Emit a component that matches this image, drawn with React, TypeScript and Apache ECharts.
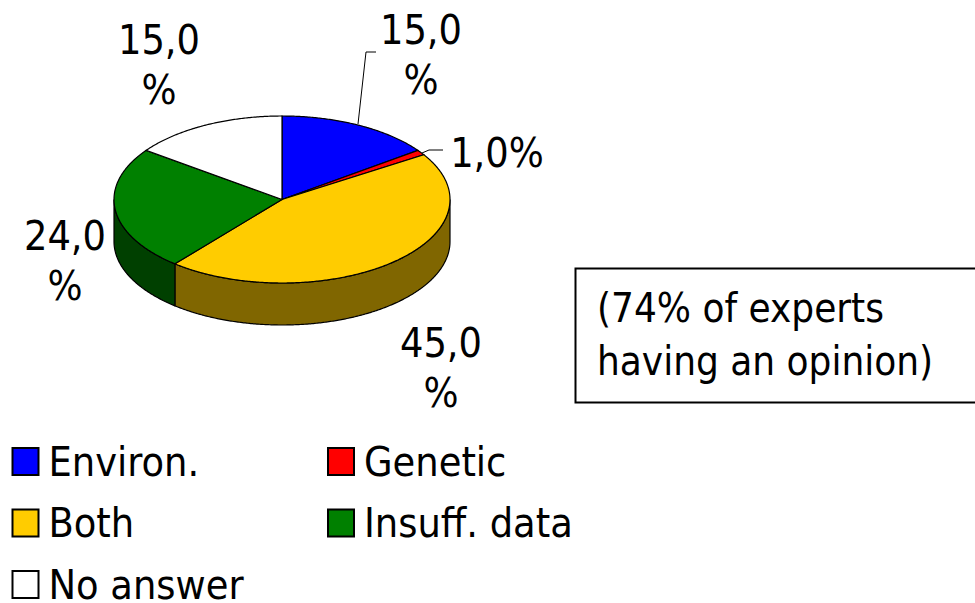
import React, { useEffect, useRef } from "react";
import * as echarts from "echarts";

const categories = ["Environ.", "Genetic", "Both", "Insuff. data", "No answer"];
const values = [15, 1, 45, 24, 15];
const topColors = ["#0000ff", "#ff0000", "#ffcc00", "#008000", "#ffffff"];
const sideColors = ["#000080", "#800000", "#806600", "#004000", "#808080"];
const legendColumnA = ["Environ.", "Both", "No answer"];
const legendColumnB = ["Genetic", "Insuff. data"];
const noteLines = ["(74% of experts", "having an opinion)"];

const FONT = "'DejaVu Sans Condensed', 'DejaVu Sans', sans-serif";
const FONT_SIZE = 41;
const CX = 282;
const CY = 199.5;
const RX = 168;
const RY = 83.5;
const DEPTH = 42;
const labelAnchors = [
  { x: 421, y: 55 },
  { x: 497, y: 153 },
  { x: 441, y: 368 },
  { x: 65, y: 261 },
  { x: 159, y: 65 },
];
const leaders: (number[][] | null)[] = [
  [[358, 124], [366, 52], [376, 52]],
  [[422, 153], [429, 150], [443, 150]],
  null,
  null,
  null,
];

const total = values.reduce((a, b) => a + b, 0);

function rim(deg: number, dy = 0): number[] {
  const r = (deg * Math.PI) / 180;
  return [CX + RX * Math.sin(r), CY - RY * Math.cos(r) + dy];
}

function arcPoints(from: number, to: number, dy = 0): number[][] {
  const pts: number[][] = [];
  const n = Math.max(2, Math.ceil((to - from) * 2));
  for (let i = 0; i <= n; i++) pts.push(rim(from + ((to - from) * i) / n, dy));
  return pts;
}

function formatLabel(v: number): string {
  const s = v.toFixed(1).replace(".", ",") + "%";
  return v >= 10 ? s.replace("%", "\n%") : s;
}

function makeRenderer(index: number) {
  const before = values.slice(0, index).reduce((a, b) => a + b, 0);
  return (_params: any, api: any) => {
    const value = api.value(0);
    const start = (before / total) * 360;
    const end = ((before + value) / total) * 360;
    const children: any[] = [];
    const sideFrom = Math.max(start, 90);
    const sideTo = Math.min(end, 270);
    if (sideTo > sideFrom) {
      const upper = arcPoints(sideFrom, sideTo);
      const lower = arcPoints(sideFrom, sideTo, DEPTH).reverse();
      children.push({
        type: "polygon",
        shape: { points: [...upper, ...lower] },
        style: { fill: sideColors[index], stroke: "#000", lineWidth: 1.2 },
      });
    }
    children.push({
      type: "polygon",
      shape: { points: [[CX, CY], ...arcPoints(start, end)] },
      style: { fill: topColors[index], stroke: "#000", lineWidth: 1.2 },
    });
    const leader = leaders[index];
    if (leader) {
      children.push({
        type: "polyline",
        shape: { points: leader },
        style: { fill: "none", stroke: "#000", lineWidth: 1 },
      });
    }
    const a = labelAnchors[index];
    children.push({
      type: "text",
      style: {
        text: formatLabel(value),
        x: a.x,
        y: a.y,
        fill: "#000",
        fontFamily: FONT,
        fontSize: FONT_SIZE,
        lineHeight: 50,
        align: "center",
        verticalAlign: "middle",
      },
    });
    return { type: "group", children };
  };
}

const legendBase = {
  orient: "vertical" as const,
  icon: "rect",
  itemWidth: 26,
  itemHeight: 27,
  itemGap: 20.5,
  padding: 0,
  height: 300,
  selectedMode: false,
  textStyle: {
    fontFamily: FONT,
    fontSize: FONT_SIZE,
    color: "#000",
    lineHeight: 27,
    padding: [0, 0, 0, 5],
  },
};

export default function App() {
  const ref = useRef<HTMLDivElement>(null);
  useEffect(() => {
    const chart = echarts.init(ref.current!, null, { renderer: "svg" });
    chart.setOption({
      animation: false,
      backgroundColor: "#fff",
      legend: [
        { ...legendBase, left: 11.5, top: 441, data: legendColumnA },
        { ...legendBase, left: 327, top: 441, data: legendColumnB },
      ],
      series: categories.map((name, i) => ({
        type: "custom",
        name,
        coordinateSystem: "none",
        silent: true,
        itemStyle: { color: topColors[i], borderColor: "#000", borderWidth: 1 },
        data: [[values[i]]],
        renderItem: makeRenderer(i),
      })),
      graphic: [
        {
          type: "rect",
          shape: { x: 575.5, y: 268.5, width: 420, height: 134 },
          style: { fill: "#fff", stroke: "#000", lineWidth: 2 },
        },
        {
          type: "text",
          x: 597,
          y: 334,
          style: {
            text: noteLines.join("\n"),
            fill: "#000",
            fontFamily: FONT,
            fontSize: 40,
            lineHeight: 53,
            align: "left",
            verticalAlign: "middle",
          },
        },
      ],
    });
    return () => chart.dispose();
  }, []);
  return (
    <div
      ref={ref}
      style={{ position: "absolute", left: 0, top: 0, width: 975, height: 603 }}
    />
  );
}
